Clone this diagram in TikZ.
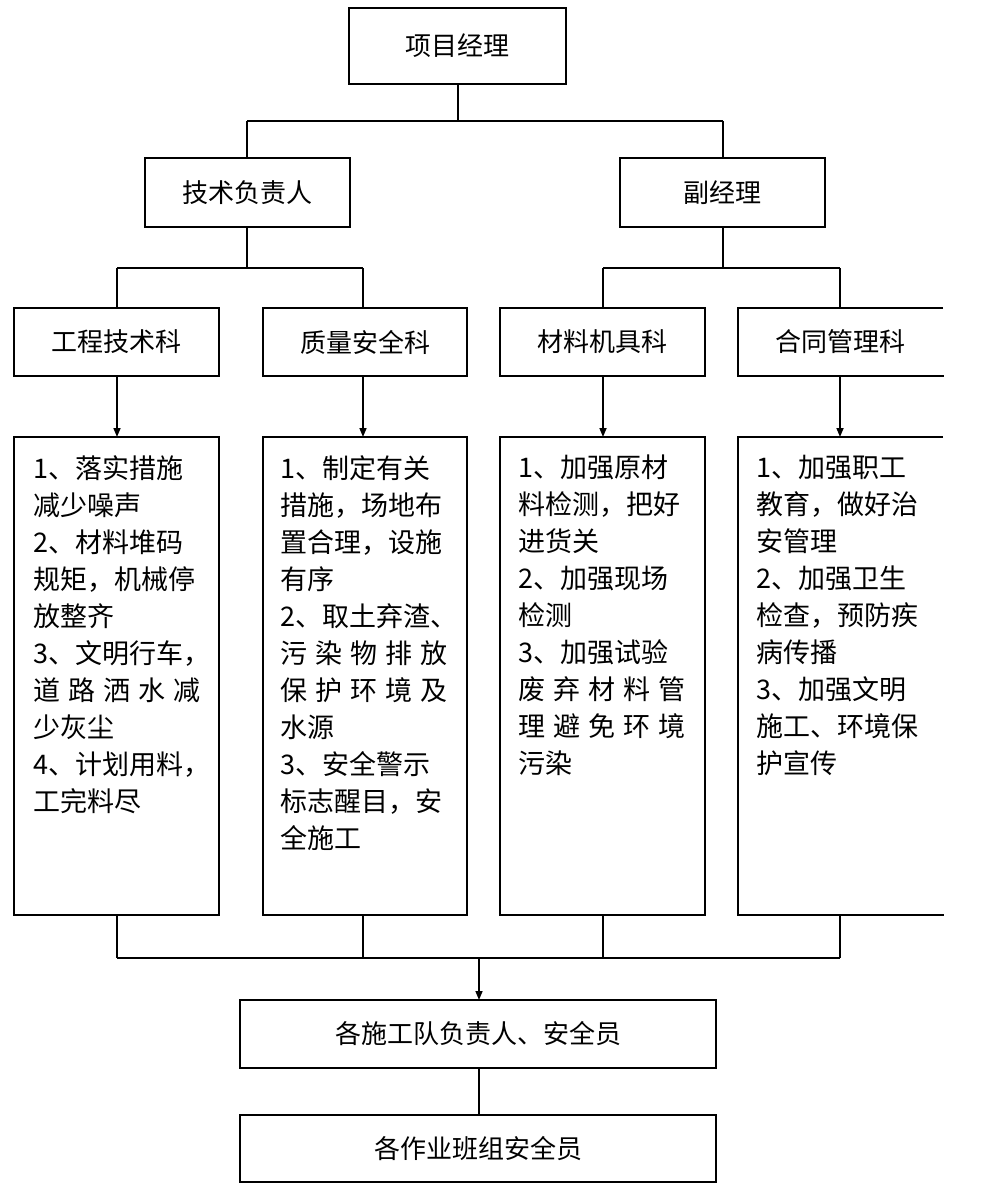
\documentclass[tikz,border=0pt]{standalone}
\usepackage{fontspec}
\setmainfont{Noto Sans CJK SC}
\usetikzlibrary{arrows.meta}
\newcommand{\jl}[1]{\makebox[167pt][s]{#1}}
\begin{document}
\begin{tikzpicture}[x=1pt,y=-1pt,
  bx/.style={draw,line width=1.2pt},
  sh/.style={line width=2.6pt,line cap=rect},
  ln/.style={line width=1.6pt},
  ar/.style={line width=1.6pt,-{Triangle[length=9pt,width=7pt]}},
  lab/.style={font=\fontsize{26}{30}\selectfont,anchor=center},
  det/.style={font=\fontsize{27}{37}\selectfont,anchor=north west,align=left,inner sep=0pt}]
\useasboundingbox (0,0) rectangle (1006,1198);
\newcommand{\boxx}[5]{%
 \draw[bx] (#1,#2) rectangle (#3,#4);
 \draw[sh] (#3,#2+2) -- (#3,#4) -- (#1+2,#4);
 \node[lab] at ({(#1+#3)/2},{(#2+#4)/2}) {#5};}
\boxx{349}{8}{566}{84}{项目经理}
\boxx{145}{158}{350}{227}{技术负责人}
\boxx{620}{158}{825}{227}{副经理}
\boxx{14}{308}{219}{376}{工程技术科}
\boxx{263}{308}{467}{376}{质量安全科}
\boxx{500}{308}{705}{376}{材料机具科}
\draw[bx] (943,308) -- (738,308) -- (738,376) -- (943,376);
\draw[sh] (740,376) -- (943,376);
\node[lab] at (840,342) {合同管理科};
\boxx{14}{437}{219}{915}{}
\boxx{263}{437}{467}{915}{}
\boxx{500}{437}{705}{915}{}
\draw[bx] (943,437) -- (738,437) -- (738,915) -- (943,915);
\draw[sh] (740,915) -- (943,915);
\boxx{240}{1000}{716}{1068}{各施工队负责人、安全员}
\boxx{240}{1115}{716}{1182}{各作业班组安全员}
% connectors
\coordinate (t) at (458,84);
\draw[ln] (t) -- (458,121) (247,121) -- (723,121) (247,121) -- (247,158) (723,121) -- (723,158);
\draw[ln] (247,227) -- (247,268) (117,268) -- (363,268) (117,268) -- (117,308) (363,268) -- (363,308);
\draw[ln] (723,227) -- (723,268) (603,268) -- (840,268) (603,268) -- (603,308) (840,268) -- (840,308);
\foreach \x in {117,363,603,840} {\draw[ar] (\x,376) -- (\x,437); \draw[ln] (\x,915) -- (\x,958);}
\draw[ln] (117,958) -- (840,958);
\draw[ar] (479,958) -- (479,1000);
\draw[ln] (479,1068) -- (479,1115);
% details
\node[det] at (33,455) {1、落实措施\\减少噪声\\2、材料堆码\\规矩，机械停\\放整齐\\3、文明行车，\\\jl{道 路 洒 水 减}\\少灰尘\\4、计划用料，\\工完料尽};
\node[det] at (280,455) {1、制定有关\\措施，场地布\\置合理，设施\\有序\\2、取土弃渣、\\\jl{污 染 物 排 放}\\\jl{保 护 环 境 及}\\水源\\3、安全警示\\标志醒目，安\\全施工};
\node[det] at (518,455) {1、加强原材\\料检测，把好\\进货关\\2、加强现场\\检测\\3、加强试验\\\jl{废 弃 材 料 管}\\\jl{理 避 免 环 境}\\污染};
\node[det] at (756,455) {1、加强职工\\教育，做好治\\安管理\\2、加强卫生\\检查，预防疾\\病传播\\3、加强文明\\施工、环境保\\护宣传};
\end{tikzpicture}
\end{document}
